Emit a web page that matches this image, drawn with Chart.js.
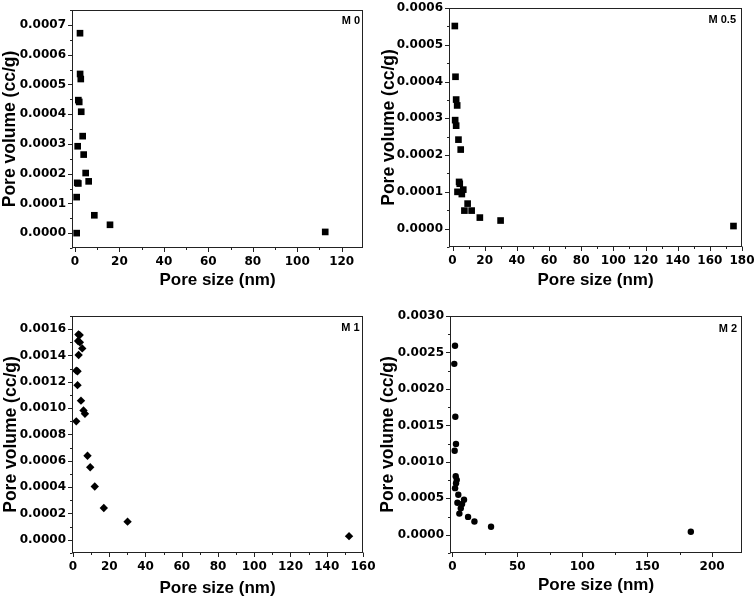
<!DOCTYPE html>
<html>
<head>
<meta charset="utf-8">
<script src="https://cdn.jsdelivr.net/npm/chart.js@4/dist/chart.umd.min.js"></script>
<style>
  html, body { margin: 0; padding: 0; background: #fff; }
  #wrap { position: relative; width: 755px; height: 600px; }
  canvas { position: absolute; }
</style>
</head>
<body>
<div id="wrap">
  <canvas id="c0" width="377" height="300" style="left:0;top:0"></canvas>
  <canvas id="c1" width="378" height="300" style="left:377px;top:0"></canvas>
  <canvas id="c2" width="377" height="300" style="left:0;top:300px"></canvas>
  <canvas id="c3" width="378" height="300" style="left:377px;top:300px"></canvas>
</div>
<script>
// ---------- data ----------
const panelLabels = ["M 0", "M 0.5", "M 1", "M 2"];
const xTitle = "Pore size (nm)";
const yTitle = "Pore volume (cc/g)";

const m0PoreSize   = [2.25, 2.3, 2.6, 1.5, 1.9, 2.8, 3.45, 1.2, 3.9, 4.8, 6.15, 1.0, 1.5, 0.75, 8.7, 15.75, 0.75, 112.6];
const m0PoreVolume = [0.000672, 0.000535, 0.000518, 0.000447, 0.000441, 0.000408, 0.000326, 0.000292, 0.000264, 0.000202, 0.000174, 0.000169, 0.000167, 0.000121, 0.00006, 0.000028, 0.0, 0.000004];

const m05PoreSize   = [1.44, 1.86, 2.27, 2.9, 1.65, 2.27, 3.7, 5.1, 4.1, 4.5, 3.1, 6.7, 5.8, 9.4, 7.4, 11.9, 17.0, 29.9, 174.7];
const m05PoreVolume = [0.000551, 0.000413, 0.000351, 0.000335, 0.000295, 0.00028, 0.000242, 0.000215, 0.000127, 0.000122, 0.0001, 0.000106, 0.000094, 0.000068, 0.000049, 0.000049, 0.00003, 0.000022, 0.000007];

const m1PoreSize   = [3.0, 3.7, 2.8, 3.8, 5.1, 3.1, 1.8, 2.5, 2.5, 4.4, 5.8, 6.6, 1.8, 8.0, 9.5, 12.0, 17.0, 30.1, 152.3];
const m1PoreVolume = [0.00156, 0.001555, 0.00151, 0.0015, 0.001454, 0.001404, 0.001285, 0.00128, 0.001175, 0.001057, 0.000983, 0.000958, 0.0009, 0.000639, 0.000551, 0.000405, 0.000242, 0.000138, 0.000028];

const m2PoreSize   = [2.06, 1.5, 2.3, 2.8, 1.8, 2.6, 3.4, 2.85, 2.1, 4.6, 9.0, 3.9, 7.5, 6.5, 5.4, 12.1, 17.0, 29.8, 183.6];
const m2PoreVolume = [0.002593, 0.002344, 0.001618, 0.001245, 0.001153, 0.000802, 0.000753, 0.000707, 0.000639, 0.000549, 0.000481, 0.00044, 0.000422, 0.000363, 0.00029, 0.000245, 0.000182, 0.000109, 0.000041];

// tick values
const m0XTicks  = [0, 20, 40, 60, 80, 100, 120];
const m0YTicks  = [0, 0.0001, 0.0002, 0.0003, 0.0004, 0.0005, 0.0006, 0.0007];
const m05XTicks = [0, 20, 40, 60, 80, 100, 120, 140, 160, 180];
const m05YTicks = [0, 0.0001, 0.0002, 0.0003, 0.0004, 0.0005, 0.0006];
const m1XTicks  = [0, 20, 40, 60, 80, 100, 120, 140, 160];
const m1YTicks  = [0, 0.0002, 0.0004, 0.0006, 0.0008, 0.0010, 0.0012, 0.0014, 0.0016];
const m2XTicks  = [0, 50, 100, 150, 200];
const m2YTicks  = [0, 0.0005, 0.0010, 0.0015, 0.0020, 0.0025, 0.0030];

// ---------- layout / style per panel ----------
const panels = [
  { id: "c0", label: panelLabels[0], xs: m0PoreSize, ys: m0PoreVolume, xt: m0XTicks, yt: m0YTicks,
    xMin: -1.35, xMax: 129.6, yMin: -0.00005, yMax: 0.00075, xMinor: 10, yMinor: 0.00005,
    style: "rect", radius: 4.7,
    yW: 72, xH: 52, padTop: 10, padRight: 14, xTitlePad: 11.5, yTitlePad: 1.8, lblDx: 3, lblDy: 13.5 },
  { id: "c1", label: panelLabels[1], xs: m05PoreSize, ys: m05PoreVolume, xt: m05XTicks, yt: m05YTicks,
    xMin: -2.18, xMax: 180, yMin: -0.00005, yMax: 0.0006, xMinor: 10, yMinor: 0.00005,
    style: "rect", radius: 4.7,
    yW: 72, xH: 53, padTop: 8, padRight: 13, xTitlePad: 11.5, yTitlePad: 3, lblDx: 6, lblDy: 14.5 },
  { id: "c2", label: panelLabels[2], xs: m1PoreSize, ys: m1PoreVolume, xt: m1XTicks, yt: m1YTicks,
    xMin: -0.55, xMax: 160, yMin: -0.0001, yMax: 0.0017, xMinor: 10, yMinor: 0.0001,
    style: "rectRot", radius: 4.2,
    yW: 72, xH: 47, padTop: 16, padRight: 14, xTitlePad: 3, yTitlePad: 2.5, lblDx: 3.5, lblDy: 14.5 },
  { id: "c3", label: panelLabels[3], xs: m2PoreSize, ys: m2PoreVolume, xt: m2XTicks, yt: m2YTicks,
    xMin: -1.8, xMax: 223, yMin: -0.00025, yMax: 0.0030, xMinor: 25, yMinor: 0.00025,
    style: "circle", radius: 3.2,
    yW: 73, xH: 47, padTop: 16, padRight: 13, xTitlePad: 6.5, yTitlePad: 2.3, lblDx: 5, lblDy: 16 }
];

const tickFont  = { family: "DejaVu Sans", weight: "bold", size: 12 };
const titleFont = { family: "Liberation Sans", weight: "bold", size: 17, lineHeight: 1 };

const framePlugin = {
  id: "frame",
  afterDraw(chart) {
    const p = chart.options.plugins.frame;
    const { ctx, chartArea: a } = chart;
    const xs = chart.scales.x, ys = chart.scales.y;
    ctx.save();
    ctx.strokeStyle = "#222";
    ctx.lineWidth = 1;
    const L = Math.round(a.left) + 0.5, R = Math.round(a.right) - 0.5;
    const T = Math.round(a.top) + 0.5, B = Math.round(a.bottom) - 0.5;
    ctx.strokeRect(L, T, R - L, B - T);
    ctx.beginPath();
    // x ticks (outward, below)
    for (let v = Math.ceil(p.xMin / p.xMinor) * p.xMinor; v <= p.xMax + 1e-9; v += p.xMinor) {
      const px = Math.round(xs.getPixelForValue(v)) + 0.5;
      const major = p.xt.some(t => Math.abs(t - v) < 1e-9);
      ctx.moveTo(px, B); ctx.lineTo(px, B + (major ? 4.5 : 2.5));
    }
    // y ticks (outward, left)
    const n0 = Math.ceil(p.yMin / p.yMinor - 1e-9), n1 = Math.floor(p.yMax / p.yMinor + 1e-9);
    for (let n = n0; n <= n1; n++) {
      const v = n * p.yMinor;
      const py = Math.round(ys.getPixelForValue(v)) + 0.5;
      const major = p.yt.some(t => Math.abs(t - v) < 1e-12);
      ctx.moveTo(L, py); ctx.lineTo(L - (major ? 4.5 : 2.5), py);
    }
    ctx.stroke();
    // panel label
    ctx.fillStyle = "#000";
    ctx.font = 'bold 11px "Liberation Sans"';
    ctx.textAlign = "right";
    ctx.textBaseline = "alphabetic";
    ctx.fillText(p.label, a.right - p.lblDx, a.top + p.lblDy);
    ctx.restore();
  }
};

panels.forEach(p => {
  const pts = p.xs.map((x, i) => ({ x: x, y: p.ys[i] }));
  new Chart(document.getElementById(p.id), {
    type: "scatter",
    data: {
      datasets: [{
        data: pts,
        pointStyle: p.style,
        pointRadius: p.radius,
        pointHoverRadius: p.radius,
        backgroundColor: "#000",
        borderColor: "#000",
        borderWidth: 0
      }]
    },
    plugins: [framePlugin],
    options: {
      responsive: false,
      animation: false,
      devicePixelRatio: 1,
      layout: { padding: { left: 0, top: p.padTop, right: p.padRight, bottom: 0 } },
      plugins: {
        legend: { display: false },
        tooltip: { enabled: false },
        frame: p
      },
      scales: {
        x: {
          type: "linear",
          min: p.xMin, max: p.xMax,
          grid: { display: false, drawTicks: false },
          border: { display: false },
          afterBuildTicks: s => { s.ticks = p.xt.map(v => ({ value: v })); },
          afterFit: s => { s.height = p.xH; s.paddingLeft = s.paddingRight = s.paddingTop = s.paddingBottom = 0; },
          ticks: {
            autoSkip: false, maxRotation: 0, minRotation: 0,
            padding: 7, color: "#000", font: tickFont,
            callback: v => String(v)
          },
          title: { display: true, text: xTitle, color: "#000", font: titleFont, padding: { top: 0, bottom: p.xTitlePad } }
        },
        y: {
          type: "linear",
          min: p.yMin, max: p.yMax,
          grid: { display: false, drawTicks: false },
          border: { display: false },
          afterBuildTicks: s => { s.ticks = p.yt.map(v => ({ value: v })); },
          afterFit: s => { s.width = p.yW; s.paddingLeft = s.paddingRight = s.paddingTop = s.paddingBottom = 0; },
          ticks: {
            autoSkip: false,
            padding: 6, color: "#000", font: tickFont,
            callback: v => Number(v).toFixed(4)
          },
          title: { display: true, text: yTitle, color: "#000", font: Object.assign({}, titleFont, { size: 17.5 }), padding: { top: p.yTitlePad, bottom: 0 } }
        }
      }
    }
  });
});
</script>
</body>
</html>
